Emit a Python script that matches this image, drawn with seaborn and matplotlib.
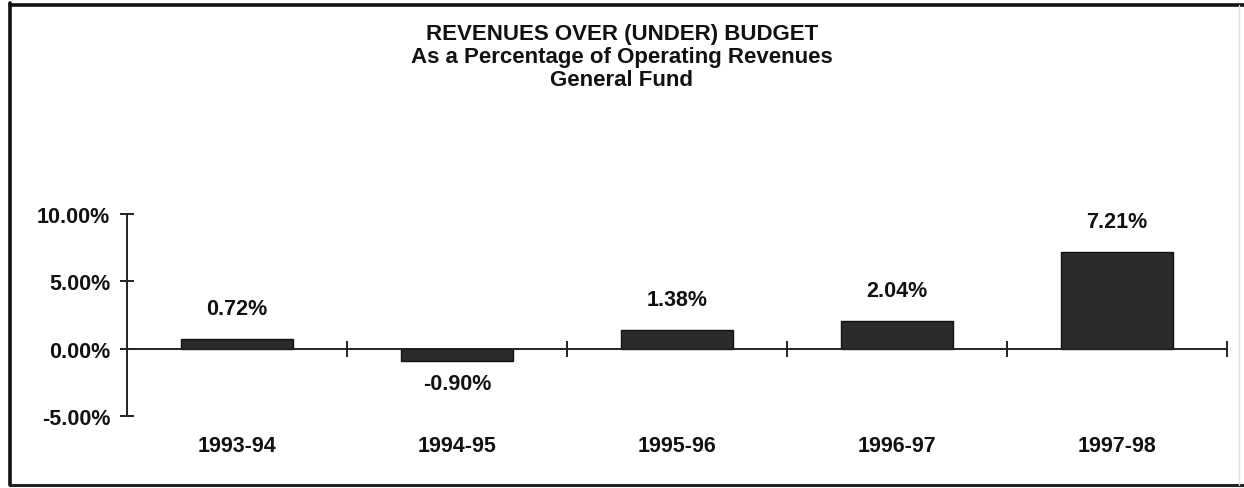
import matplotlib
matplotlib.use("Agg")
import matplotlib.pyplot as plt
from matplotlib.lines import Line2D
from matplotlib.ticker import FixedLocator, FuncFormatter
import seaborn as sns
import pandas as pd

# Fiscal years and revenue variance as a percent of operating revenues
years = ["1993-94", "1994-95", "1995-96", "1996-97", "1997-98"]
pct_over_budget = [0.72, -0.90, 1.38, 2.04, 7.21]
y_ticks = [-5, 0, 5, 10]

sns.set_theme(style="white")
plt.rcParams["font.family"] = ["Liberation Sans", "DejaVu Sans"]
plt.rcParams["font.weight"] = "bold"

FS = 15.5
df = pd.DataFrame({"year": years, "pct": pct_over_budget})

fig = plt.figure(figsize=(12.44, 4.89), dpi=100)
fig.patch.set_facecolor("white")
ax = fig.add_axes([127 / 1244, 1 - 417 / 489, (1227 - 127) / 1244, (417 - 215) / 489])

sns.barplot(data=df, x="year", y="pct", color="#2b2b2b", width=0.51,
            edgecolor="#111111", linewidth=1.0, saturation=1, ax=ax)

ax.set_xlim(-0.5, len(years) - 0.5)
ax.set_ylim(y_ticks[0], y_ticks[-1])
ax.set_xlabel("")
ax.set_ylabel("")
ax.set_facecolor("white")

# Spines: left axis line and a zero baseline
for side in ["top", "right"]:
    ax.spines[side].set_visible(False)
ax.spines["left"].set_color("#222222")
ax.spines["left"].set_linewidth(1.4)
ax.spines["bottom"].set_position(("data", 0))
ax.spines["bottom"].set_color("#222222")
ax.spines["bottom"].set_linewidth(1.4)

# Y ticks
ax.yaxis.set_major_locator(FixedLocator(y_ticks))
ax.yaxis.set_major_formatter(FuncFormatter(lambda v, p: f"{v:.2f}%"))
ax.tick_params(axis="y", which="major", direction="inout", length=10, width=1.4,
               color="#222222", pad=7, labelsize=FS, left=True)

# X: category labels below the plot, separator ticks on the baseline
ax.set_xticks(range(len(years)))
ax.set_xticklabels(years, fontsize=FS, fontweight="bold")
ax.tick_params(axis="x", which="major", length=0, pad=62, labelsize=FS)
ax.xaxis.set_minor_locator(FixedLocator([i + 0.5 for i in range(len(years))]))
ax.tick_params(axis="x", which="minor", direction="inout", length=11, width=1.4,
               color="#222222", bottom=True)

for lbl in ax.get_yticklabels() + ax.get_xticklabels():
    lbl.set_fontweight("bold")
    lbl.set_color("#111111")

# Value labels on each bar
for i, v in enumerate(pct_over_budget):
    off = 22 if v >= 0 else -16
    ax.annotate(f"{v:.2f}%", xy=(i, v), xytext=(0, off), textcoords="offset points",
                ha="center", va="center", fontsize=FS, fontweight="bold", color="#111111")

# Title block
fig.text(0.5, 1 - 24 / 489,
         "REVENUES OVER (UNDER) BUDGET\nAs a Percentage of Operating Revenues\nGeneral Fund",
         ha="center", va="top", fontsize=16, fontweight="bold", linespacing=1.13,
         color="#111111")

# Outer frame
W, H = 1244, 489
fig.add_artist(Line2D([10 / W, 10 / W], [3 / H, 1 - 4 / H], transform=fig.transFigure,
                      color="#111111", lw=2.6))
fig.add_artist(Line2D([10 / W, 1], [1 - 6 / H, 1 - 6 / H], transform=fig.transFigure,
                      color="#111111", lw=2.6))
fig.add_artist(Line2D([10 / W, 1], [3 / H, 3 / H], transform=fig.transFigure,
                      color="#222222", lw=2.2))
fig.add_artist(Line2D([1239 / W, 1239 / W], [3 / H, 1 - 6 / H], transform=fig.transFigure,
                      color="#dddddd", lw=1.0))

fig.savefig("out.png", dpi=100, facecolor="white")
